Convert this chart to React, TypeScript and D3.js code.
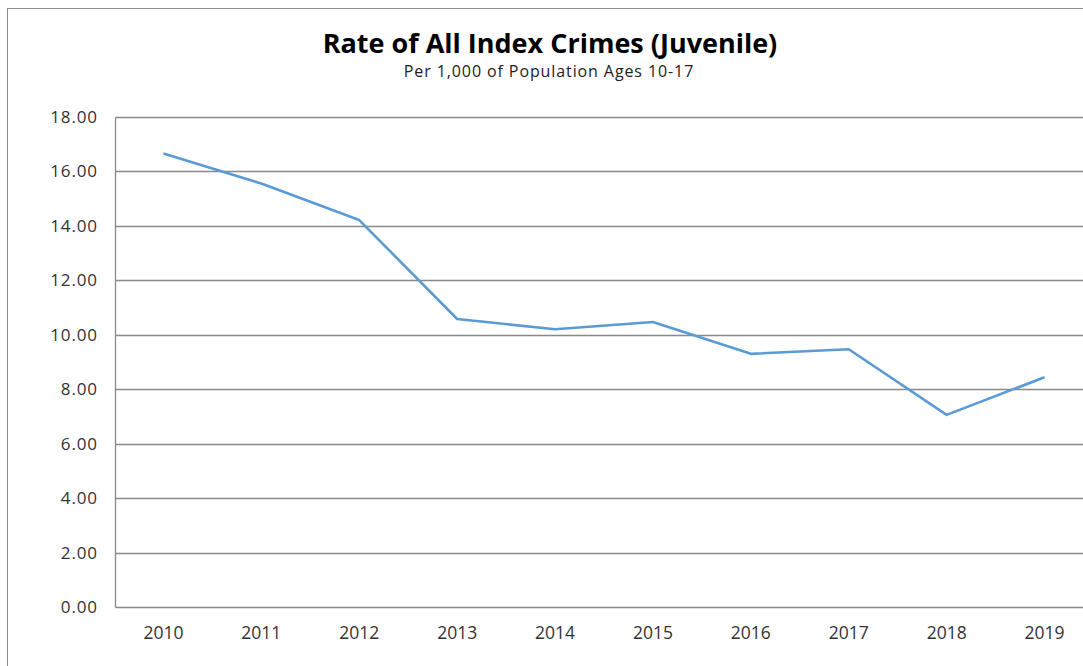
import React, { useEffect, useRef } from 'react';
import * as d3 from 'd3';

// values
const years = ['2010', '2011', '2012', '2013', '2014', '2015', '2016', '2017', '2018', '2019'];
const rates = [16.64, 15.54, 14.2, 10.57, 10.19, 10.46, 9.29, 9.46, 7.05, 8.43];
const yTicks = [0, 2, 4, 6, 8, 10, 12, 14, 16, 18];

const title = 'Rate of All Index Crimes (Juvenile)';
const subtitle = 'Per 1,000 of Population Ages 10-17';

const App = () => {
  const ref = useRef<SVGSVGElement | null>(null);

  const width = 1083;
  const height = 666;

  useEffect(() => {
    if (!ref.current) return;

    const margin = { top: 116.5, left: 114.5, bottom: 59 };
    const step = 97.9;
    const gridColor = '#898989';
    const font = '"Open Sans", sans-serif';

    const x = d3
      .scaleBand<string>()
      .domain(years)
      .range([margin.left, margin.left + step * years.length]);

    const y = d3
      .scaleLinear()
      .domain([0, 18])
      .range([height - margin.bottom, margin.top]);

    const svg = d3.select(ref.current);
    svg.selectAll('*').remove();

    // outer chart frame (runs off the right and bottom edges)
    svg
      .append('rect')
      .attr('x', 7.5)
      .attr('y', 8.5)
      .attr('width', width + 20)
      .attr('height', height + 20)
      .attr('fill', '#fff')
      .attr('stroke', '#8c8c8c')
      .attr('stroke-width', 1);

    svg
      .append('text')
      .attr('x', 550)
      .attr('y', 53)
      .attr('text-anchor', 'middle')
      .attr('font-family', font)
      .attr('font-weight', 700)
      .attr('font-size', 27)
      .attr('fill', '#000')
      .text(title);

    svg
      .append('text')
      .attr('x', 549)
      .attr('y', 77)
      .attr('text-anchor', 'middle')
      .attr('font-family', font)
      .attr('font-size', 16)
      .attr('letter-spacing', 0.9)
      .attr('fill', '#222')
      .text(subtitle);

    // horizontal gridlines
    svg
      .append('g')
      .selectAll('line')
      .data(yTicks)
      .join('line')
      .attr('x1', margin.left + 1)
      .attr('x2', width + 10)
      .attr('y1', (d) => Math.round(y(d)) + 0.5)
      .attr('y2', (d) => Math.round(y(d)) + 0.5)
      .attr('stroke', gridColor)
      .attr('stroke-width', 1.3);

    // vertical axis line
    svg
      .append('line')
      .attr('x1', margin.left + 1)
      .attr('x2', margin.left + 1)
      .attr('y1', Math.round(y(18)) + 0.5)
      .attr('y2', Math.round(y(0)) + 0.5)
      .attr('stroke', gridColor)
      .attr('stroke-width', 1.3);

    svg
      .append('g')
      .selectAll('text')
      .data(yTicks)
      .join('text')
      .attr('x', 98)
      .attr('y', (d) => y(d))
      .attr('dy', '0.36em')
      .attr('text-anchor', 'end')
      .attr('font-family', font)
      .attr('font-size', 17)
      .attr('letter-spacing', 0.9)
      .attr('fill', '#333')
      .text((d) => d.toFixed(2));

    svg
      .append('g')
      .selectAll('text')
      .data(years)
      .join('text')
      .attr('x', (d) => (x(d) || 0) + x.bandwidth() / 2)
      .attr('y', 639)
      .attr('text-anchor', 'middle')
      .attr('font-family', font)
      .attr('font-size', 17.5)
      .attr('fill', '#333')
      .text((d) => d);

    const line = d3
      .line<number>()
      .x((_, i) => (x(years[i]) || 0) + x.bandwidth() / 2)
      .y((d) => y(d));

    svg
      .append('path')
      .datum(rates)
      .attr('d', line)
      .attr('fill', 'none')
      .attr('stroke', '#5b9bd5')
      .attr('stroke-width', 2.6)
      .attr('stroke-linejoin', 'round');
  });

  return (
    <svg
      ref={ref}
      width={width}
      height={height}
      viewBox={`0 0 ${width} ${height}`}
      style={{ position: 'absolute', left: 0, top: 0, display: 'block' }}
    />
  );
};

export default App;
